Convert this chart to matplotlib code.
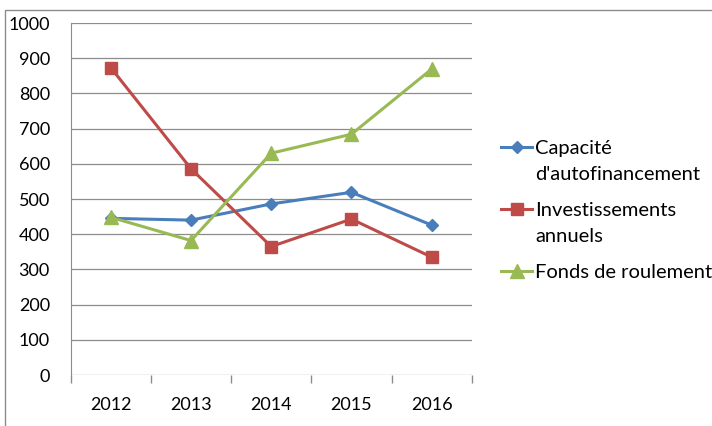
import numpy as np
import matplotlib
matplotlib.use('Agg')
import matplotlib.pyplot as plt
from matplotlib.patches import Rectangle
from matplotlib.lines import Line2D

# Years on the category axis
years = ['2012', '2013', '2014', '2015', '2016']

# Series values
capacite = [445, 440, 486, 519, 426]
investissements = [873, 586, 365, 443, 335]
fonds = [448, 382, 630, 684, 869]

labels = ["Capacité\nd'autofinancement", 'Investissements\nannuels', 'Fonds de roulement']

plt.rcParams['font.family'] = ['Lato', 'DejaVu Sans']

W, H = 712, 426
fig = plt.figure(figsize=(W / 100, H / 100), dpi=100)
ax = fig.add_axes([70.7 / W, 1 - 375 / H, 401 / W, 352 / H])

# outer chart border
fig.patches.append(Rectangle((5 / W, -0.1), 1.1, 1 - 10 / H + 0.1,
                             transform=fig.transFigure, fill=False,
                             edgecolor='#8c8c8c', linewidth=1.0))

x = np.arange(len(years))
styles = [('#4A7EBB', 'D', 6.5), ('#BE4B48', 's', 9), ('#98B954', '^', 10)]
series = [capacite, investissements, fonds]
for vals, (c, m, ms) in zip(series, styles):
    ax.plot(x, vals, color=c, lw=2.2, marker=m, ms=ms)

ax.set_xlim(-0.5, len(years) - 0.5)
ax.set_ylim(0, 1000)
ax.set_yticks(np.arange(0, 1001, 100))
ax.yaxis.grid(True, color='#8c8c8c', lw=0.9)
ax.set_axisbelow(True)
ax.tick_params(axis='y', length=0, labelsize=13, pad=15)

# category labels centred, tick marks between categories
ax.set_xticks(x)
ax.set_xticklabels(years)
ax.set_xticks(np.arange(-0.5, len(years)), minor=True)
ax.tick_params(axis='x', which='major', length=0, labelsize=13, pad=16)
ax.tick_params(axis='x', which='minor', length=6, color='#8c8c8c', width=1)

for s in ['top', 'right', 'bottom']:
    ax.spines[s].set_visible(False)
ax.spines['left'].set_color('#8c8c8c')

# legend, Excel style: marker aligned with the first line of each label
line_h = 25.5
y = 147
for lab, (c, m, ms) in zip(labels, styles):
    yf = 1 - y / H
    fig.add_artist(Line2D([501 / W, 532 / W], [yf, yf], color=c, lw=2.2,
                          transform=fig.transFigure))
    fig.add_artist(Line2D([516.5 / W], [yf], color=c, marker=m, ms=ms,
                          transform=fig.transFigure))
    for k, part in enumerate(lab.split('\n')):
        fig.text(535 / W, 1 - (y + k * line_h) / H, part, fontsize=14.5,
                 va='center_baseline', ha='left')
    y += len(lab.split('\n')) * line_h + 11

fig.savefig('out.png', dpi=100)
